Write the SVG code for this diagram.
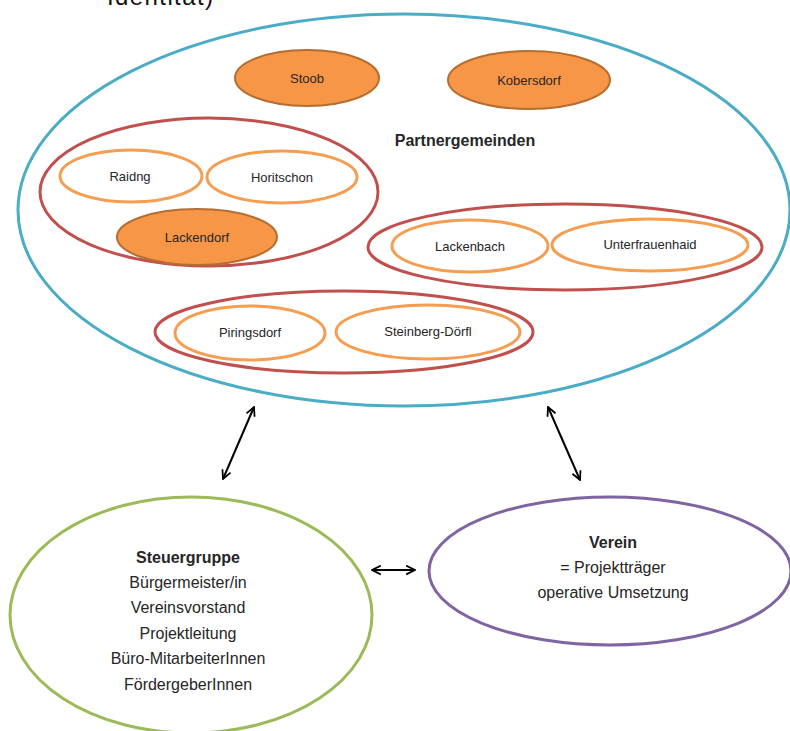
<svg xmlns="http://www.w3.org/2000/svg" width="790" height="731" viewBox="0 0 790 731">
<defs>
<style>
text{font-family:"Liberation Sans","Noto Sans",Arial,sans-serif;fill:#262626;text-anchor:middle}
.sm{font-size:13px}
.md{font-size:16px}
.b{font-weight:bold}
.full{fill:#f79646;stroke:#b66d31;stroke-width:2}
.ring{fill:#fff;stroke:#f59d50;stroke-width:3}
.grp{fill:none;stroke:#c0504d;stroke-width:3}
.con{stroke:#000;stroke-width:2;fill:none;marker-start:url(#ah);marker-end:url(#ah)}
</style>
<marker id="ah" viewBox="0 0 10 10" refX="9" refY="5" markerWidth="11" markerHeight="11" orient="auto-start-reverse" markerUnits="userSpaceOnUse">
<path d="M1,1 L9,5 L1,9" fill="none" stroke="#000" stroke-width="1.6"/>
</marker>
</defs>
<rect width="790" height="731" fill="#fff"/>
<text x="160" y="5" style="font-size:24px;fill:#111" textLength="106">Identität)</text>

<g id="partnergemeinden">
<ellipse cx="404" cy="210" rx="386" ry="196" fill="#fff" stroke="#4bacc6" stroke-width="3"/>
<text x="465" y="146" class="md b">Partnergemeinden</text>
</g>
<g id="stoob"><ellipse cx="307" cy="78" rx="72" ry="28" class="full"/><text x="307" y="83" class="sm">Stoob</text></g>
<g id="kobersdorf"><ellipse cx="529" cy="80" rx="81" ry="29" class="full"/><text x="529" y="85" class="sm">Kobersdorf</text></g>

<g id="gruppe1">
<ellipse cx="209" cy="192" rx="169" ry="74" class="grp"/>
</g>
<g id="raidng"><ellipse cx="131" cy="176" rx="71" ry="26" class="ring"/><text x="130" y="181" class="sm">Raidng</text></g>
<g id="horitschon"><ellipse cx="282" cy="177" rx="75" ry="26" class="ring"/><text x="282" y="182" class="sm">Horitschon</text></g>
<g id="lackendorf"><ellipse cx="197" cy="237" rx="80" ry="28" class="full"/><text x="197" y="242" class="sm">Lackendorf</text></g>

<g id="gruppe2">
<ellipse cx="565" cy="247" rx="197" ry="43" class="grp"/>
</g>
<g id="lackenbach"><ellipse cx="470" cy="246" rx="78" ry="26" class="ring"/><text x="470" y="251" class="sm">Lackenbach</text></g>
<g id="unterfrauenhaid"><ellipse cx="650" cy="245" rx="98" ry="26" class="ring"/><text x="650" y="249" class="sm">Unterfrauenhaid</text></g>

<g id="gruppe3">
<ellipse cx="344" cy="332" rx="189" ry="41" class="grp"/>
</g>
<g id="piringsdorf"><ellipse cx="250" cy="333" rx="75" ry="27" class="ring"/><text x="250" y="337" class="sm">Piringsdorf</text></g>
<g id="steinberg"><ellipse cx="428" cy="332" rx="92" ry="27" class="ring"/><text x="428" y="336" class="sm">Steinberg-Dörfl</text></g>

<g id="steuergruppe">
<ellipse cx="191" cy="615" rx="181" ry="118" fill="#fff" stroke="#9bbb59" stroke-width="3"/>
<text x="188" y="563" class="md b">Steuergruppe</text>
<text x="188" y="588" class="md">Bürgermeister/in</text>
<text x="188" y="613" class="md">Vereinsvorstand</text>
<text x="188" y="639" class="md">Projektleitung</text>
<text x="188" y="664" class="md">Büro-MitarbeiterInnen</text>
<text x="188" y="690" class="md">FördergeberInnen</text>
</g>

<g id="verein">
<ellipse cx="610" cy="571" rx="181" ry="74" fill="#fff" stroke="#8064a2" stroke-width="3"/>
<text x="613" y="548" class="md b">Verein</text>
<text x="613" y="573" class="md">= Projektträger</text>
<text x="613" y="598" class="md">operative Umsetzung</text>
</g>

<g id="connectors">
<line x1="254" y1="407" x2="223" y2="479" class="con"/>
<line x1="548" y1="407" x2="580" y2="480" class="con"/>
<line x1="372" y1="570" x2="415" y2="570" class="con"/>
</g>
</svg>
